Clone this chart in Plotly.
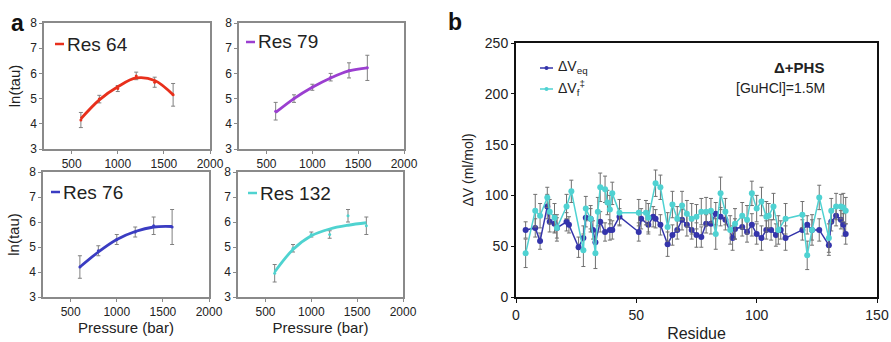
import plotly.graph_objects as go

# ---------------- Panel a data ----------------
pressure = [600, 800, 1000, 1200, 1400, 1600]

res64_val = [4.15, 4.98, 5.40, 5.90, 5.65, 5.15]
res64_err = [0.30, 0.15, 0.12, 0.15, 0.20, 0.45]
res64_fit = [4.20, 4.95, 5.47, 5.82, 5.72, 5.15]

res79_val = [4.50, 5.00, 5.45, 5.85, 6.12, 6.22]
res79_err = [0.35, 0.15, 0.12, 0.15, 0.30, 0.50]
res79_fit = [4.45, 5.00, 5.45, 5.82, 6.10, 6.22]

res76_val = [4.20, 4.85, 5.30, 5.60, 5.85, 5.80]
res76_err = [0.45, 0.20, 0.20, 0.20, 0.35, 0.70]
res76_fit = [4.20, 4.80, 5.30, 5.62, 5.80, 5.82]

res132_val = [3.95, 4.95, 5.50, 5.50, 6.25, 5.85]
res132_err = [0.35, 0.15, 0.10, 0.15, 0.25, 0.35]
res132_fit = [4.00, 4.90, 5.45, 5.72, 5.87, 5.97]

# ---------------- Panel b data ----------------
eq_res = [4, 8, 10, 13, 14, 16, 17, 21, 22, 26, 28, 29, 31, 32, 33, 35, 37, 39, 40, 43,
          51, 52, 55, 57, 58, 60, 63, 65, 67, 69, 71, 73, 75, 77, 79, 81, 83, 85, 87, 90,
          91, 94, 96, 98, 100, 102, 104, 106, 108, 110, 112, 119, 121, 123, 126, 130, 131,
          133, 135, 136, 137]
eq_val = [66, 68, 55, 89, 74, 72, 68, 74, 71, 49, 58, 78, 77, 66, 54, 74, 64, 66, 66, 79,
          64, 77, 71, 79, 77, 71, 52, 61, 66, 76, 71, 66, 61, 59, 72, 72, 82, 79, 76, 58,
          67, 69, 64, 71, 62, 58, 66, 66, 61, 66, 58, 66, 71, 66, 66, 51, 74,
          80, 76, 71, 62]
eq_err = [8, 9, 8, 12, 10, 9, 10, 9, 8, 10, 12, 9, 10, 9, 11, 10, 9, 10, 9, 8,
          9, 10, 9, 10, 9, 10, 12, 10, 9, 10, 11, 9, 12, 10, 9, 10, 11, 9, 10, 12,
          10, 9, 10, 11, 10, 12, 9, 10, 11, 9, 12, 10, 9, 10, 11, 10, 9,
          10, 9, 11, 10]

f_res = [4, 8, 10, 13, 14, 16, 17, 21, 23, 28, 29, 31, 33, 34, 35, 37, 38, 39, 40, 43,
         51, 54, 55, 58, 60, 63, 65, 67, 69, 71, 73, 75, 77, 79, 81, 83, 85, 87, 89, 91,
         94, 96, 98, 100, 102, 104, 105, 107, 109, 112, 119, 121, 123, 126, 130, 131,
         133, 135, 136, 137]
f_val = [43, 85, 80, 98, 84, 78, 68, 89, 104, 46, 87, 77, 43, 84, 108, 106, 93, 86, 102, 83,
         83, 83, 78, 112, 108, 69, 91, 77, 90, 82, 77, 79, 84, 84, 85, 62, 102, 84, 66, 72,
         80, 76, 102, 87, 94, 79, 80, 89, 66, 77, 81, 41, 66, 98, 58, 85,
         89, 89, 88, 85]
f_err = [14, 16, 12, 10, 12, 14, 13, 12, 11, 16, 12, 13, 15, 14, 14, 13, 12, 14, 11, 13,
         13, 12, 14, 13, 12, 14, 13, 12, 14, 13, 15, 12, 13, 14, 12, 15, 16, 13, 14, 15,
         13, 14, 12, 13, 14, 15, 12, 13, 14, 15, 13, 14, 15, 12, 14, 12,
         13, 12, 14, 13]

FONT = "Liberation Sans, Arial, sans-serif"
W, H = 891, 342
EQ_COL = "#3434ab"
F_COL = "#4fd2d2"

def xd(a, b):
    return [a / W, b / W]

def yd(top, bottom):
    return [1 - bottom / H, 1 - top / H]

fig = go.Figure()

panels = [
    ("Res 64", res64_val, res64_err, res64_fit, "#e8301c", "x", "y"),
    ("Res 79", res79_val, res79_err, res79_fit, "#9b3fd0", "x2", "y2"),
    ("Res 76", res76_val, res76_err, res76_fit, "#3a3cc2", "x3", "y3"),
    ("Res 132", res132_val, res132_err, res132_fit, "#4fd3d0", "x4", "y4"),
]

for name, val, err, fit, col, xa, ya in panels:
    fig.add_trace(go.Scatter(
        x=pressure, y=val, mode="markers", xaxis=xa, yaxis=ya,
        marker=dict(size=3, color=col),
        error_y=dict(type="data", array=err, color="#808080", thickness=1, width=2),
        showlegend=False, hoverinfo="skip"))
    fig.add_trace(go.Scatter(
        x=pressure, y=fit, mode="lines", xaxis=xa, yaxis=ya,
        line=dict(color=col, width=2.8, shape="spline", smoothing=1.0),
        showlegend=False))

# panel b
fig.add_trace(go.Scatter(
    x=eq_res, y=eq_val, mode="lines+markers", xaxis="x5", yaxis="y5",
    name="ΔV<sub>eq</sub>", showlegend=False,
    line=dict(color=EQ_COL, width=1.5),
    marker=dict(size=6, color=EQ_COL),
    error_y=dict(type="data", array=eq_err, color="#707070", thickness=1, width=2)))
fig.add_trace(go.Scatter(
    x=f_res, y=f_val, mode="lines+markers", xaxis="x5", yaxis="y5",
    name="ΔV<sub>f</sub><sup>‡</sup>", showlegend=False,
    line=dict(color=F_COL, width=1.5),
    marker=dict(size=6, color=F_COL),
    error_y=dict(type="data", array=f_err, color="#707070", thickness=1, width=2)))

a_x = dict(range=[200, 2000], tickvals=[500, 1000, 1500, 2000], showgrid=False, zeroline=False,
           showline=True, linecolor="#8a8a8a", linewidth=1.5, mirror=True, automargin=False,
           ticks="outside", ticklen=3, tickcolor="#8a8a8a",
           tickfont=dict(size=12, color="#222", family=FONT))
a_y = dict(range=[3, 8], dtick=1, showgrid=False, zeroline=False, automargin=False,
           showline=True, linecolor="#8a8a8a", linewidth=1.5, mirror=True,
           ticks="outside", ticklen=3, tickcolor="#8a8a8a",
           tickfont=dict(size=12, color="#222", family=FONT))

L1, R1 = 44, 210
L2, R2 = 239, 404
T1, B1 = 23, 149
T2, B2 = 172, 297

title_font = dict(size=15, color="#222", family=FONT)

fig.update_layout(
    width=W, height=H, margin=dict(l=0, r=0, t=0, b=0, autoexpand=False),
    paper_bgcolor="white", plot_bgcolor="white",
    font=dict(family=FONT, color="#222"),
    showlegend=False,
    xaxis=dict(a_x, domain=xd(L1, R1), anchor="y"),
    yaxis=dict(a_y, domain=yd(T1, B1), anchor="x",
               title=dict(text="ln(tau)", font=title_font, standoff=6)),
    xaxis2=dict(a_x, domain=xd(L2, R2), anchor="y2"),
    yaxis2=dict(a_y, domain=yd(T1, B1), anchor="x2"),
    xaxis3=dict(a_x, domain=xd(L1 - 1, R1 - 1), anchor="y3",
                title=dict(text="Pressure (bar)", font=title_font, standoff=1)),
    yaxis3=dict(a_y, domain=yd(T2, B2), anchor="x3",
                title=dict(text="ln(tau)", font=title_font, standoff=6)),
    xaxis4=dict(a_x, domain=xd(L2 - 1, R2 - 1), anchor="y4",
                title=dict(text="Pressure (bar)", font=title_font, standoff=1)),
    yaxis4=dict(a_y, domain=yd(T2, B2), anchor="x4"),
    xaxis5=dict(range=[0, 150], dtick=50, domain=xd(516, 877), anchor="y5", automargin=False,
                showgrid=False, zeroline=False, showline=True, linecolor="#111",
                linewidth=2, mirror=True, ticks="outside", ticklen=4, tickcolor="#111",
                tickfont=dict(size=14, color="#222", family=FONT),
                title=dict(text="Residue", font=dict(size=16, color="#222", family=FONT),
                           standoff=6)),
    yaxis5=dict(range=[0, 250], dtick=50, domain=yd(43, 297), anchor="x5", automargin=False,
                showgrid=False, zeroline=False, showline=True, linecolor="#111",
                linewidth=2, mirror=True, ticks="outside", ticklen=3, tickcolor="#111",
                tickfont=dict(size=14, color="#222", family=FONT),
                title=dict(text="ΔV (ml/mol)", font=dict(size=14, color="#222", family=FONT),
                           standoff=8)),
)

# legend-like labels for panel a
leg = [
    ("Res 64", "#e8301c", 55, 44),
    ("Res 79", "#9b3fd0", 246, 42),
    ("Res 76", "#3a3cc2", 51, 192),
    ("Res 132", "#4fd3d0", 248, 193),
]
for txt, col, x0, yc in leg:
    fig.add_shape(type="line", xref="paper", yref="paper",
                  x0=x0 / W, x1=(x0 + 9) / W, y0=1 - yc / H, y1=1 - yc / H,
                  line=dict(color=col, width=2.5))
    fig.add_annotation(text=txt, xref="paper", yref="paper", x=(x0 + 10) / W, y=1 - yc / H,
                       xanchor="left", yanchor="middle", showarrow=False,
                       font=dict(size=19, color="#222", family=FONT))

# legend for panel b (compact, like the original)
legb = [("ΔV<sub>eq</sub>", EQ_COL, 68), ("ΔV<sub>f</sub><sup>‡</sup>", F_COL, 89)]
for txt, col, yc in legb:
    fig.add_shape(type="line", xref="paper", yref="paper",
                  x0=540 / W, x1=553 / W, y0=1 - yc / H, y1=1 - yc / H,
                  line=dict(color=col, width=1.5))
    fig.add_shape(type="circle", xref="paper", yref="paper",
                  x0=544.5 / W, x1=548.5 / W, y0=1 - (yc + 2) / H, y1=1 - (yc - 2) / H,
                  fillcolor=col, line=dict(color=col, width=0))
    fig.add_annotation(text=txt, xref="paper", yref="paper", x=556 / W, y=1 - (yc - 1) / H,
                       xanchor="left", yanchor="middle", showarrow=False,
                       font=dict(size=14, color="#222", family=FONT))

# panel letters and annotations
fig.add_annotation(text="<b>a</b>", xref="paper", yref="paper", x=9 / W, y=1 - 23 / H,
                   xanchor="left", yanchor="middle", showarrow=False,
                   font=dict(size=23, color="#111", family=FONT))
fig.add_annotation(text="<b>b</b>", xref="paper", yref="paper", x=446 / W, y=1 - 22 / H,
                   xanchor="left", yanchor="middle", showarrow=False,
                   font=dict(size=23, color="#111", family=FONT))
fig.add_annotation(text="<b>Δ+PHS</b>", xref="paper", yref="paper", x=826 / W, y=1 - 67 / H,
                   xanchor="right", yanchor="middle", showarrow=False,
                   font=dict(size=15, color="#222", family=FONT))
fig.add_annotation(text="[GuHCl]=1.5M", xref="paper", yref="paper", x=827 / W, y=1 - 88 / H,
                   xanchor="right", yanchor="middle", showarrow=False,
                   font=dict(size=14, color="#222", family=FONT))

fig.write_html("out.html", config={"displayModeBar": False},
               post_script="document.body.style.margin='0';document.body.style.overflow='hidden';")
